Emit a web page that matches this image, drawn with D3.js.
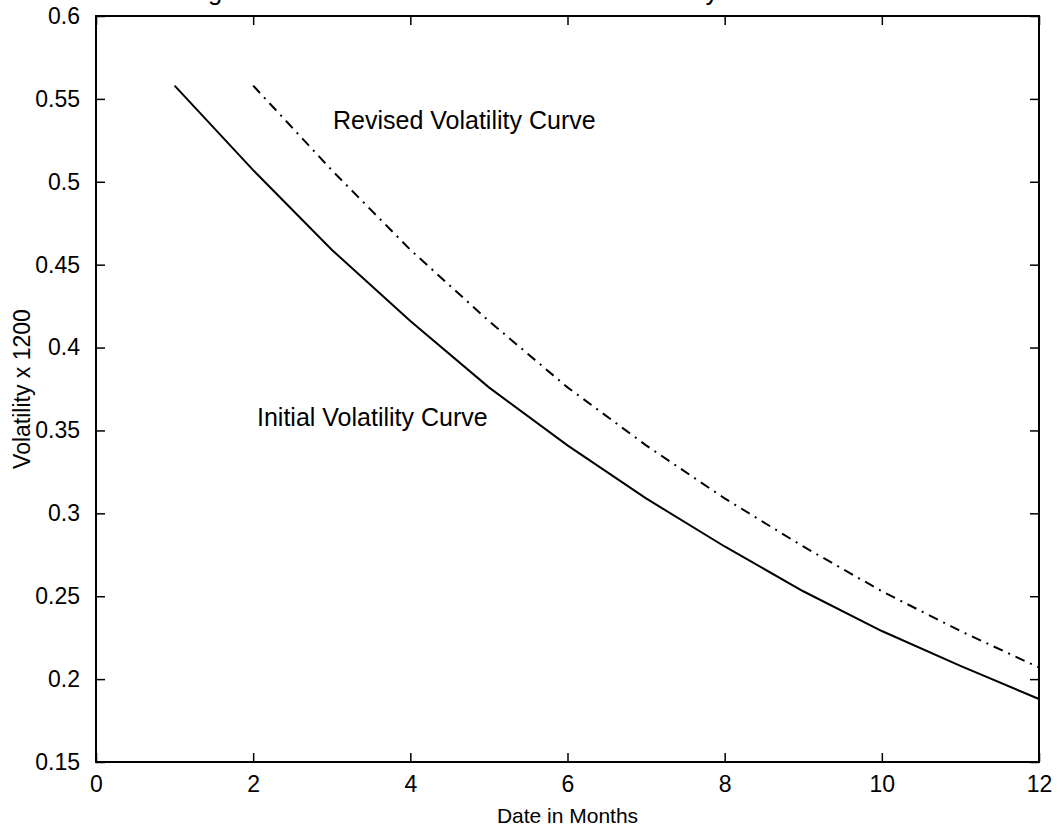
<!DOCTYPE html>
<html>
<head>
<meta charset="utf-8">
<script src="https://cdn.jsdelivr.net/npm/d3@7"></script>
<style>
  body { margin: 0; background: #fff; }
  text { font-family: "Liberation Sans", Arial, sans-serif; fill: #000; }
  .axis path, .axis line { stroke: #000; }
</style>
</head>
<body>
<div id="chart"></div>
<script>
// months and the two volatility curves
var months = [1, 2, 3, 4, 5, 6, 7, 8, 9, 10, 11, 12];
var initialVol = [0.558, 0.507, 0.459, 0.416, 0.376, 0.341, 0.309, 0.280, 0.253, 0.229, 0.208, 0.188];
var revisedMonths = [2, 3, 4, 5, 6, 7, 8, 9, 10, 11, 12];
var revisedVol = [0.558, 0.507, 0.459, 0.416, 0.376, 0.341, 0.309, 0.280, 0.253, 0.229, 0.207];
var xTicks = [0, 2, 4, 6, 8, 10, 12];
var yTicks = [0.15, 0.2, 0.25, 0.3, 0.35, 0.4, 0.45, 0.5, 0.55, 0.6];

var w = 1062;
var h = 833;
var padL = 96, padR = 1039, padT = 16, padB = 762;

var initial = months.map(function(m, i) { return { m: m, v: initialVol[i] }; });
var revised = revisedMonths.map(function(m, i) { return { m: m, v: revisedVol[i] }; });

var xScale = d3.scaleLinear().domain([0, 12]).range([padL, padR]);
var yScale = d3.scaleLinear().domain([0.15, 0.6]).range([padB, padT]);

var svg = d3.select("#chart")
  .append("svg")
  .attr("width", w)
  .attr("height", h);

// title, mostly cut off above the picture
svg.append("text")
  .attr("x", 147)
  .attr("y", 0)
  .style("font-size", "25.5px")
  .text("Change in the Initial Curve to the Revised Volatility Curve");

var line = d3.line()
  .x(function(d) { return xScale(d.m); })
  .y(function(d) { return yScale(d.v); });

svg.append("path")
  .datum(initial)
  .attr("fill", "none")
  .attr("stroke", "#000")
  .attr("stroke-width", 2)
  .attr("d", line);

svg.append("path")
  .datum(revised)
  .attr("fill", "none")
  .attr("stroke", "#000")
  .attr("stroke-width", 2)
  .attr("stroke-dasharray", "10,6,2,6")
  .attr("d", line);

// box
svg.append("rect")
  .attr("x", padL)
  .attr("y", padT)
  .attr("width", padR - padL)
  .attr("height", padB - padT)
  .attr("fill", "none")
  .attr("stroke", "#000")
  .attr("stroke-width", 2);

// axes with inward ticks
var fmt = function(d) { return String(+d.toFixed(2)); };

var xAxis = d3.axisBottom(xScale).tickValues(xTicks).tickSizeInner(-9).tickSizeOuter(0).tickPadding(14);
var yAxis = d3.axisLeft(yScale).tickValues(yTicks).tickSizeInner(-9).tickSizeOuter(0).tickPadding(16).tickFormat(fmt);

svg.append("g")
  .attr("class", "axis")
  .attr("transform", "translate(0," + padB + ")")
  .call(xAxis)
  .call(function(g) { g.select(".domain").remove(); })
  .selectAll("text").style("font-size", "23px");

svg.append("g")
  .attr("class", "axis")
  .attr("transform", "translate(" + padL + ",0)")
  .call(yAxis)
  .call(function(g) { g.select(".domain").remove(); })
  .selectAll("text").style("font-size", "23px");

svg.append("g")
  .attr("class", "axis")
  .attr("transform", "translate(0," + padT + ")")
  .call(d3.axisTop(xScale).tickValues(xTicks).tickSizeInner(-9).tickSizeOuter(0).tickFormat(""))
  .call(function(g) { g.select(".domain").remove(); });

svg.append("g")
  .attr("class", "axis")
  .attr("transform", "translate(" + padR + ",0)")
  .call(d3.axisRight(yScale).tickValues(yTicks).tickSizeInner(-9).tickSizeOuter(0).tickFormat(""))
  .call(function(g) { g.select(".domain").remove(); });

svg.selectAll(".axis line").attr("stroke-width", 1.5);

// labels
svg.append("text")
  .attr("x", (padL + padR) / 2)
  .attr("y", 823)
  .attr("text-anchor", "middle")
  .style("font-size", "21px")
  .text("Date in Months");

svg.append("text")
  .attr("transform", "translate(30," + (padT + padB) / 2 + ") rotate(-90)")
  .attr("text-anchor", "middle")
  .style("font-size", "23px")
  .text("Volatility x 1200");

svg.append("text")
  .attr("x", 333)
  .attr("y", 129)
  .style("font-size", "25px")
  .text("Revised Volatility Curve");

svg.append("text")
  .attr("x", 257)
  .attr("y", 426)
  .style("font-size", "25px")
  .text("Initial Volatility Curve");
</script>
</body>
</html>
